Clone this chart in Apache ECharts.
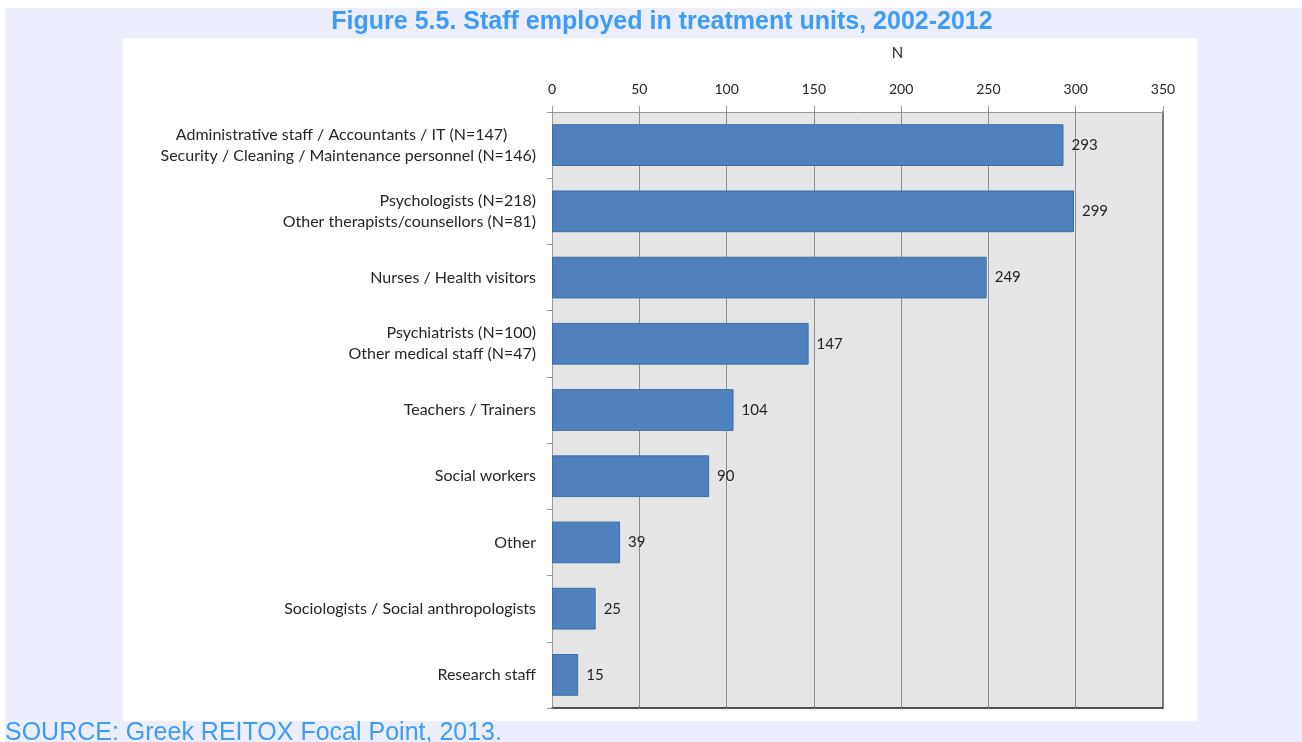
<!DOCTYPE html>
<html>
<head>
<meta charset="utf-8">
<script src="https://cdn.jsdelivr.net/npm/echarts@6/dist/echarts.min.js"></script>
<style>
  html, body { margin: 0; padding: 0; background: #ffffff; }
  #page { position: relative; width: 1302px; height: 742px; overflow: hidden; }
  #band { position: absolute; left: 5px; top: 8px; right: 0; bottom: 0; background: #eceefd; }
  #panel { position: absolute; left: 123px; top: 38px; width: 1074px; height: 683px; background: #ffffff; }
  #chart { position: absolute; left: 0; top: 0; width: 1302px; height: 742px; }
</style>
</head>
<body>
<div id="page">
  <div id="band"></div>
  <div id="panel"></div>
  <div id="chart"></div>
</div>
<script>
// Staff categories (top to bottom) and head counts
const categories = [
  'Administrative staff / Accountants / IT (N=147)       \nSecurity / Cleaning / Maintenance personnel (N=146)',
  'Psychologists (N=218)\nOther therapists/counsellors (N=81)',
  'Nurses / Health visitors',
  'Psychiatrists (N=100)\nOther medical staff (N=47)',
  'Teachers / Trainers',
  'Social workers',
  'Other',
  'Sociologists / Social anthropologists',
  'Research staff'
];
const staffCounts = [293, 299, 249, 147, 104, 90, 39, 25, 15];
const axisMin = 0;
const axisMax = 350;
const axisStep = 50;

const titleText = 'Figure 5.5. Staff employed in treatment units, 2002-2012';
const sourceText = 'SOURCE: Greek REITOX Focal Point, 2013.';
const axisName = 'N';

const labelFont = 'Lato, "Open Sans", sans-serif';
const headFont = '"Liberation Sans", Arial, sans-serif';

const chart = echarts.init(document.getElementById('chart'), null, { renderer: 'canvas' });

chart.setOption({
  backgroundColor: 'transparent',
  animation: false,
  title: [
    {
      text: titleText,
      left: 662,
      top: 8,
      textAlign: 'center',
      padding: 0,
      textStyle: { fontFamily: headFont, fontWeight: 'bold', fontSize: 25, lineHeight: 28, color: '#3c9cf6' }
    },
    {
      text: sourceText,
      left: 5,
      top: 719,
      padding: 0,
      textStyle: { fontFamily: headFont, fontWeight: 'normal', fontSize: 25, lineHeight: 28, color: '#3c9cf6' }
    }
  ],
  grid: {
    left: 552, right: 139, top: 112, bottom: 34,
    show: true, backgroundColor: '#e5e5e5', borderWidth: 0,
    containLabel: false
  },
  xAxis: [
    {
      type: 'value', position: 'top',
      min: axisMin, max: axisMax, interval: axisStep,
      name: axisName, nameLocation: 'middle', nameGap: 51,
      nameTextStyle: { fontFamily: labelFont, fontSize: 15, color: '#262626', padding: [0, 0, 0, 80] },
      axisLine: { show: true, lineStyle: { color: '#9a9a9a', width: 1 } },
      axisTick: { show: true, inside: false, length: 6, lineStyle: { color: '#9a9a9a' } },
      axisLabel: { margin: 16, fontFamily: labelFont, fontSize: 14, color: '#262626' },
      splitLine: { show: true, lineStyle: { color: '#8e8e8e', width: 1 } }
    },
    {
      type: 'value', position: 'bottom',
      min: axisMin, max: axisMax, interval: axisStep,
      axisLine: { show: true, onZero: false, lineStyle: { color: '#1a1a1a', width: 1.5 } },
      axisTick: { show: true, inside: false, length: 2, lineStyle: { color: '#c8c8c8' } },
      axisLabel: { show: false },
      splitLine: { show: false }
    }
  ],
  yAxis: [
    {
      type: 'category', inverse: true, data: categories,
      axisLine: { show: true, onZero: false, lineStyle: { color: '#9a9a9a', width: 1 } },
      axisTick: { show: true, inside: false, length: 5, alignWithLabel: false, lineStyle: { color: '#9a9a9a' } },
      axisLabel: { margin: 16, align: 'right', fontFamily: labelFont, fontSize: 16, lineHeight: 21, color: '#262626' }
    },
    {
      type: 'category', inverse: true, position: 'right', data: categories,
      axisLine: { show: true, onZero: false, lineStyle: { color: '#7a7a7a', width: 2 } },
      axisTick: { show: false },
      axisLabel: { show: false }
    }
  ],
  series: [
    {
      type: 'bar',
      xAxisIndex: 0, yAxisIndex: 0,
      data: staffCounts,
      barWidth: '63%',
      itemStyle: { color: '#4f81bd', borderColor: '#3e6da5', borderWidth: 1 },
      label: {
        show: true, position: 'right', distance: 8,
        fontFamily: labelFont, fontSize: 15, color: '#262626'
      }
    }
  ]
});
</script>
</body>
</html>
